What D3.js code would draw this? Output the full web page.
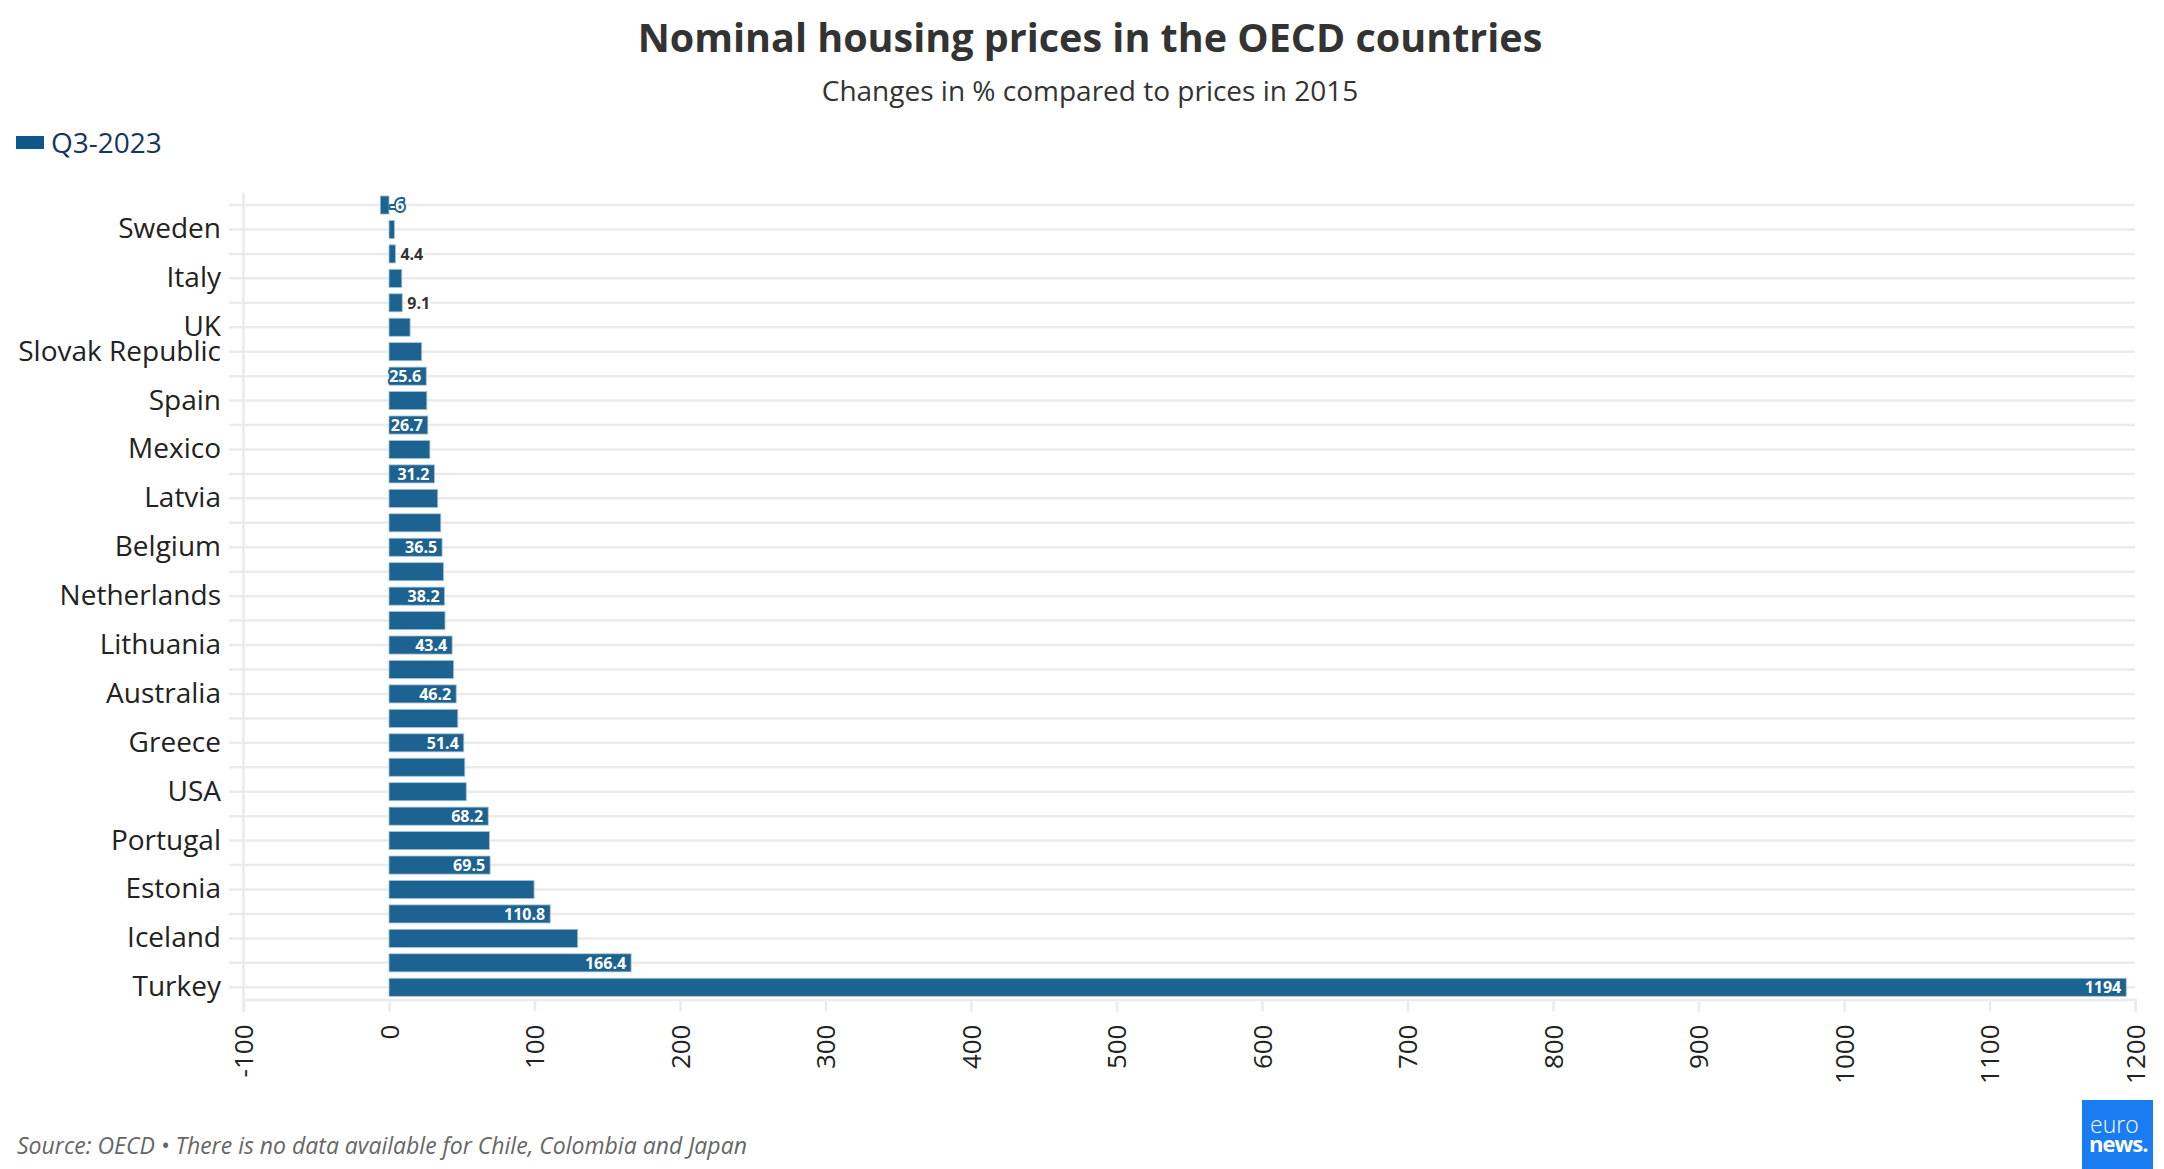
<!DOCTYPE html>
<html>
<head>
<meta charset="utf-8">
<script src="https://cdn.jsdelivr.net/npm/d3@7"></script>
<style>
  body { margin: 0; background: #fff; font-family: "Open Sans", sans-serif; }
</style>
</head>
<body>
<div id="chart"></div>
<script>
/* DATA */
const countries = [
  'Finland', 'Sweden', 'Korea', 'Italy', 'Switzerland', 'UK', 'Slovak Republic',
  'France', 'Spain', 'Israel', 'Mexico', 'Denmark', 'Latvia', 'Germany', 'Belgium',
  'Slovenia', 'Netherlands', 'Norway', 'Lithuania', 'Canada', 'Australia',
  'New Zealand', 'Greece', 'Austria', 'USA', 'Poland', 'Portugal', 'Luxembourg',
  'Estonia', 'Czech Republic', 'Iceland', 'Hungary', 'Turkey'
];
const changes = [
  -6, 3.8, 4.4, 8.8, 9.1, 14.5, 22.5,
  25.6, 26.0, 26.7, 28.1, 31.2, 33.5, 35.6, 36.5,
  37.5, 38.2, 38.5, 43.4, 44.4, 46.2,
  47.3, 51.4, 52.1, 53.1, 68.2, 69.0, 69.5,
  99.7, 110.8, 129.7, 166.4, 1194
];
// countries whose name shows on the y axis
const tickCountries = [
  'Sweden', 'Italy', 'UK', 'Slovak Republic', 'Spain', 'Mexico', 'Latvia',
  'Belgium', 'Netherlands', 'Lithuania', 'Australia', 'Greece', 'USA',
  'Portugal', 'Estonia', 'Iceland', 'Turkey'
];
// bars that carry a value label
const labelledCountries = [
  'Finland', 'Korea', 'Switzerland', 'France', 'Israel', 'Denmark', 'Belgium',
  'Netherlands', 'Lithuania', 'Australia', 'Greece', 'Poland', 'Luxembourg',
  'Czech Republic', 'Hungary', 'Turkey'
];
const xTicks = [-100, 0, 100, 200, 300, 400, 500, 600, 700, 800, 900, 1000, 1100, 1200];
const seriesName = 'Q3-2023';

const width = 2164,
  height = 1169;
const barColor = '#1d6391';
const gridColor = '#ebebeb';

const svg = d3.select('#chart')
  .append('svg')
    .attr('width', width)
    .attr('height', height);

const x = d3.scaleLinear()
  .domain([-100, 1200])
  .range([243.5, 2135]);
const y = d3.scaleBand()
  .domain(countries)
  .range([192.8, 999.5])
  .paddingInner(0.26)
  .paddingOuter(0.13);

// title + subtitle
svg.append('text')
  .attr('x', 1090)
  .attr('y', 52)
  .attr('text-anchor', 'middle')
  .attr('font-size', 39.5)
  .attr('font-weight', 700)
  .attr('fill', '#333')
  .text('Nominal housing prices in the OECD countries');
svg.append('text')
  .attr('x', 1090)
  .attr('y', 101)
  .attr('text-anchor', 'middle')
  .attr('font-size', 28)
  .attr('fill', '#333')
  .text('Changes in % compared to prices in 2015');

// legend
svg.append('rect')
  .attr('x', 16)
  .attr('y', 136)
  .attr('width', 28)
  .attr('height', 13)
  .attr('fill', '#0f5688');
svg.append('text')
  .attr('x', 51)
  .attr('y', 153)
  .attr('font-size', 28)
  .attr('fill', '#17365a')
  .text(seriesName);

// y axis with full width grid lines
const yAxis = svg.append('g')
  .attr('transform', 'translate(229, 0)')
  .call(d3.axisLeft(y)
    .tickSize(-(2135 - 229))
    .tickPadding(8)
    .tickFormat(d => tickCountries.includes(d) ? d : ''));
yAxis.select('.domain').remove();
yAxis.selectAll('.tick line')
  .attr('stroke', gridColor)
  .attr('stroke-width', 2.5);
yAxis.selectAll('.tick text')
  .attr('font-size', 28)
  .attr('font-family', '"Open Sans", sans-serif')
  .attr('fill', '#222');

// left axis line at -100
svg.append('line')
  .attr('x1', x(-100))
  .attr('x2', x(-100))
  .attr('y1', 192.8)
  .attr('y2', 1012)
  .attr('stroke', gridColor)
  .attr('stroke-width', 2.5);

// x axis
const xAxis = svg.append('g')
  .attr('transform', 'translate(0, 999.5)')
  .call(d3.axisBottom(x)
    .tickValues(xTicks)
    .tickSize(12)
    .tickFormat(d => String(d)));
xAxis.select('.domain')
  .attr('stroke', gridColor)
  .attr('stroke-width', 2.5);
xAxis.selectAll('.tick line')
  .attr('stroke', gridColor)
  .attr('stroke-width', 2.5);
xAxis.selectAll('.tick text')
  .attr('font-size', 26)
  .attr('font-family', '"Open Sans", sans-serif')
  .attr('fill', '#222')
  .attr('transform', 'rotate(-90)')
  .attr('text-anchor', 'end')
  .attr('x', -25)
  .attr('y', 0)
  .attr('dy', '0.36em');

// bars
svg.append('g')
  .selectAll('rect')
  .data(countries)
  .join('rect')
    .attr('x', (d, i) => x(Math.min(0, changes[i])))
    .attr('y', d => y(d))
    .attr('width', (d, i) => Math.abs(x(changes[i]) - x(0)))
    .attr('height', y.bandwidth())
    .attr('fill', barColor)
    .attr('stroke', '#a7c3d9')
    .attr('stroke-width', 0.8);

// value labels
const labelled = countries
  .map((c, i) => ({ c: c, v: changes[i] }))
  .filter(d => labelledCountries.includes(d.c));
svg.append('g')
  .selectAll('text')
  .data(labelled)
  .join('text')
    .attr('x', d => {
      if (d.v < 0) return x(0) + 1;
      return d.v < 20 ? x(d.v) + 5 : x(d.v) - 5;
    })
    .attr('y', d => y(d.c) + y.bandwidth() / 2)
    .attr('dy', '0.36em')
    .attr('text-anchor', d => d.v >= 20 ? 'end' : 'start')
    .attr('font-size', 16)
    .attr('font-weight', 700)
    .attr('fill', d => (d.v < 0 || d.v >= 20) ? '#fff' : '#333')
    .attr('stroke', d => (d.v < 0 || d.v >= 20) ? barColor : '#fff')
    .attr('stroke-width', 4)
    .attr('stroke-linejoin', 'round')
    .attr('paint-order', 'stroke')
    .text(d => String(d.v));

// footer
svg.append('text')
  .attr('x', 17)
  .attr('y', 1154)
  .attr('font-size', 23)
  .attr('font-style', 'italic')
  .attr('fill', '#666')
  .text('Source: OECD \u2022 There is no data available for Chile, Colombia and Japan');

// logo
svg.append('rect')
  .attr('x', 2082)
  .attr('y', 1100)
  .attr('width', 71)
  .attr('height', 69)
  .attr('fill', '#1a7cf2');
svg.append('text')
  .attr('x', 2090)
  .attr('y', 1133)
  .attr('font-size', 23)
  .attr('font-weight', 300)
  .attr('fill', '#fff')
  .text('euro');
svg.append('text')
  .attr('x', 2089)
  .attr('y', 1152)
  .attr('font-size', 22)
  .attr('font-weight', 700)
  .attr('letter-spacing', -1)
  .attr('fill', '#fff')
  .text('news.');
</script>
</body>
</html>
